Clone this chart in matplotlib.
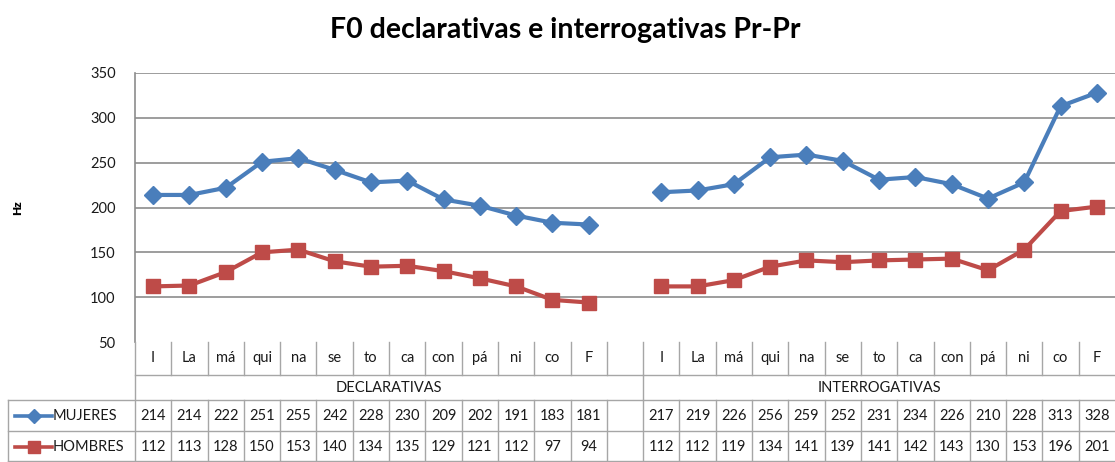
import numpy as np
import matplotlib
matplotlib.use("Agg")
import matplotlib.pyplot as plt
from matplotlib.lines import Line2D
import matplotlib.transforms as mtrans

plt.rcParams['font.family'] = ['Lato', 'DejaVu Sans']

syllables = ["I", "La", "má", "qui", "na", "se", "to", "ca", "con", "pá", "ni", "co", "F"]
categories = syllables + [""] + syllables
groups = ["DECLARATIVAS", "INTERROGATIVAS"]
mujeres = [214, 214, 222, 251, 255, 242, 228, 230, 209, 202, 191, 183, 181,
           None,
           217, 219, 226, 256, 259, 252, 231, 234, 226, 210, 228, 313, 328]
hombres = [112, 113, 128, 150, 153, 140, 134, 135, 129, 121, 112, 97, 94,
           None,
           112, 112, 119, 134, 141, 139, 141, 142, 143, 130, 153, 196, 201]
series_names = ["MUJERES", "HOMBRES"]
title = "F0 declarativas e interrogativas Pr-Pr"
yticks = [50, 100, 150, 200, 250, 300, 350]

BLUE = "#4A7EBB"
RED = "#BE4B48"
GRID = "#8C8C8C"
TAB = "#A6A6A6"
TXT = "#1A1A1A"

W, H = 1115, 462
fig = plt.figure(figsize=(W / 100, H / 100), dpi=100)

def fy(p):
    return 1 - p / H

def fx(p):
    return p / W

left_px, top_px, bot_px = 135, 73, 342
ax = fig.add_axes([fx(left_px), fy(bot_px), 1 - fx(left_px), (bot_px - top_px) / H])
n = len(categories)
x = np.arange(n)
m = np.array([np.nan if v is None else v for v in mujeres], dtype=float)
h = np.array([np.nan if v is None else v for v in hombres], dtype=float)

ax.plot(x, m, color=BLUE, lw=3.0, marker="D", ms=9, zorder=3, clip_on=False)
ax.plot(x, h, color=RED, lw=3.0, marker="s", ms=10, zorder=3, clip_on=False)

ax.set_xlim(-0.5, n - 0.5)
ax.set_ylim(50, 350)
ax.set_yticks(yticks)
ax.set_yticklabels([str(t) for t in yticks], fontsize=10.5, color=TXT)
ax.tick_params(axis="y", length=0, pad=14)
ax.set_xticks([])
for y in yticks[1:]:
    ax.axhline(y, color=GRID, lw=1.2, zorder=1)
for s in ["top", "right", "bottom"]:
    ax.spines[s].set_visible(False)
ax.spines["left"].set_color(GRID)
ax.spines["left"].set_linewidth(1.2)

fig.text(fx(565), fy(30), title, ha="center", va="center", fontsize=20.5, fontweight="bold")
fig.text(fx(18), fy(208), "Hz", rotation=90, ha="center", va="center", fontsize=8.5, fontweight="heavy")

tr = mtrans.blended_transform_factory(ax.transData, fig.transFigure)

def vline(xd, p0, p1):
    fig.add_artist(Line2D([xd, xd], [fy(p0), fy(p1)], transform=tr, color=TAB, lw=1.0))

def hline_data(x0, x1, p):
    fig.add_artist(Line2D([x0, x1], [fy(p), fy(p)], transform=tr, color=TAB, lw=1.0))

def hline_fig(px0, px1, p):
    fig.add_artist(Line2D([fx(px0), fx(px1)], [fy(p), fy(p)], transform=fig.transFigure, color=TAB, lw=1.0))

# left axis line extended down through the table
vline(-0.5, bot_px, 462)
# category row
hline_data(-0.5, n - 0.5, 375)
for k in range(n - 1):
    vline(k + 0.5, bot_px, 375)
for i, c in enumerate(categories):
    ax.text(i, fy(358), c, transform=tr, ha="center", va="center", fontsize=10.5, color=TXT, clip_on=False)
# group row
vline(13.5, 375, 400)
ax.text(6.5, fy(388), groups[0], transform=tr, ha="center", va="center", fontsize=10.5, color=TXT)
ax.text(20, fy(388), groups[1], transform=tr, ha="center", va="center", fontsize=10.5, color=TXT)
# data rows
for p in [400, 431, 461]:
    hline_fig(8, W, p)
fig.add_artist(Line2D([fx(8), fx(8)], [fy(400), fy(462)], transform=fig.transFigure, color=TAB, lw=1.0))
for k in range(n - 1):
    vline(k + 0.5, 400, 462)

rows = [(mujeres, BLUE, "D", 416, 7.5), (hombres, RED, "s", 447, 8.5)]
for (vals, col, mk, p, ms), name in zip(rows, series_names):
    fig.add_artist(Line2D([fx(15), fx(52)], [fy(p), fy(p)], transform=fig.transFigure,
                          color=col, lw=2.6))
    fig.add_artist(Line2D([fx(33.5)], [fy(p)], transform=fig.transFigure,
                          color=col, marker=mk, ms=ms, lw=0))
    fig.text(fx(53), fy(p), name, ha="left", va="center", fontsize=10.5, color=TXT)
    for i, v in enumerate(vals):
        if v is not None:
            ax.text(i, fy(p), str(v), transform=tr, ha="center", va="center", fontsize=10.5, color=TXT)

fig.savefig("out.png", dpi=100)
